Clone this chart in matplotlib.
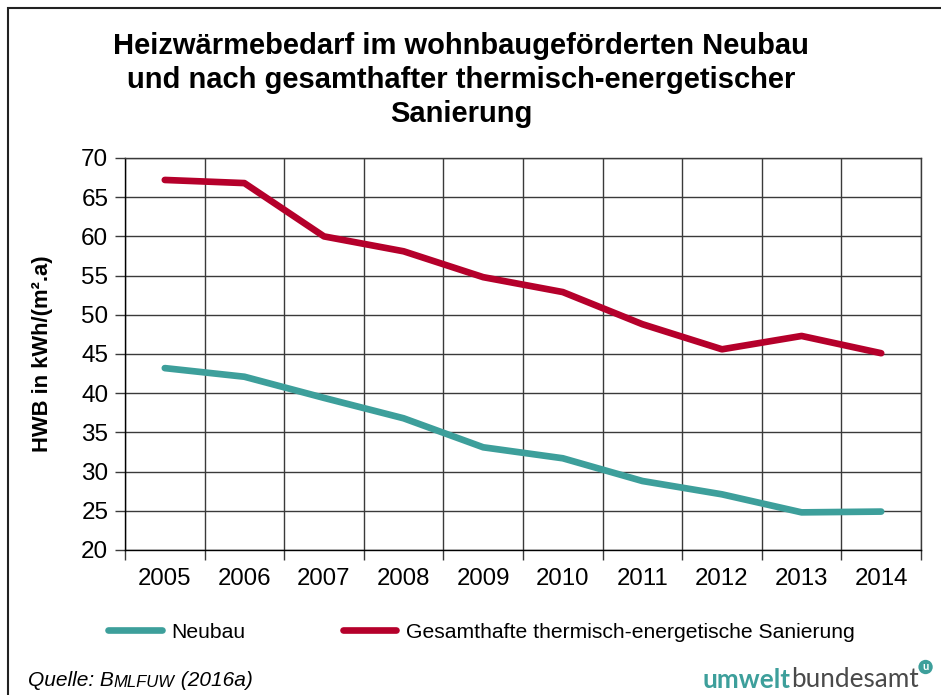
import matplotlib.pyplot as plt
from matplotlib.patches import Rectangle
import numpy as np

# data
years = ['2005', '2006', '2007', '2008', '2009', '2010', '2011', '2012', '2013', '2014']
neubau = [43.2, 42.1, 39.4, 36.8, 33.1, 31.7, 28.8, 27.1, 24.8, 24.9]
sanierung = [67.2, 66.8, 60.0, 58.1, 54.8, 52.9, 48.8, 45.6, 47.3, 45.1]
yticks = [20, 25, 30, 35, 40, 45, 50, 55, 60, 65, 70]

title = ('Heizwärmebedarf im wohnbaugeförderten Neubau\n'
         'und nach gesamthafter thermisch-energetischer\n'
         'Sanierung')
ylabel = 'HWB in kWh/(m².a)'
label_neu = 'Neubau'
label_san = 'Gesamthafte thermisch-energetische Sanierung'

TEAL = '#3d9f9b'
RED = '#b5002b'
GRID = '#3a3a3a'

plt.rcParams['font.family'] = ['Liberation Sans', 'DejaVu Sans']

fig = plt.figure(figsize=(9.41, 6.95), dpi=100)
ax = fig.add_axes([125 / 941, 1 - 550 / 695, 796 / 941, 392 / 695])

x = np.arange(len(years))
ax.plot(x, neubau, color=TEAL, lw=4.8, solid_capstyle='round', label=label_neu, zorder=3)
ax.plot(x, sanierung, color=RED, lw=4.8, solid_capstyle='round', label=label_san, zorder=3)

ax.set_xlim(-0.5, len(years) - 0.5)
ax.set_ylim(20, 70)
ax.set_yticks(yticks)
ax.set_xticks(x)
ax.set_xticklabels(years)
ax.set_xticks(np.arange(-0.5, len(years)), minor=True)
ax.tick_params(axis='x', which='major', length=0, pad=13, labelsize=17.3)
ax.tick_params(axis='x', which='minor', length=7, width=1, color=GRID)
ax.tick_params(axis='y', length=7, width=1, color=GRID, pad=5, labelsize=17.5)
ax.grid(True, axis='y', color=GRID, lw=1, zorder=1)
ax.grid(True, axis='x', which='minor', color=GRID, lw=1, zorder=1)
ax.grid(False, axis='x', which='major')
for s in ax.spines.values():
    s.set_color(GRID)
    s.set_linewidth(1)
ax.spines['left'].set_color('black')
ax.spines['bottom'].set_color('black')

ax.set_ylabel(ylabel, fontsize=15.8, fontweight='bold', labelpad=20)

fig.text(0.49, 1 - 80 / 695, title, ha='center', va='center', fontsize=21,
         fontweight='bold', linespacing=1.28)

fig.legend(loc='center left', bbox_to_anchor=(89 / 941, 1 - 632 / 695), ncol=2,
           frameon=False, fontsize=15.2, handlelength=2.55, handletextpad=0.45,
           columnspacing=4.6)

# source line with small caps for the publisher
t1 = fig.text(28 / 941, 1 - 686 / 695, 'Quelle: B', fontsize=15, style='italic',
              va='baseline')
a2 = fig.add_artist(plt.Annotation('MLFUW', xy=(1, 0), xycoords=t1, fontsize=12,
                                   style='italic', va='bottom'))
fig.add_artist(plt.Annotation(' (2016a)', xy=(1, 0), xycoords=a2, fontsize=15,
                              style='italic', va='bottom'))

# logo
l1 = fig.text(703 / 941, 1 - 688 / 695, 'umwelt', fontsize=18.8, fontweight='bold',
              color=TEAL, family=['Lato', 'DejaVu Sans'], va='baseline')
l2 = fig.add_artist(plt.Annotation('bundesamt', xy=(1, 0), xycoords=l1, fontsize=18.8,
                                   color='#4a4a4a', family=['Lato', 'DejaVu Sans'],
                                   va='bottom'))
fig.add_artist(plt.Annotation('u', xy=(1, 1), xycoords=l2, xytext=(5, 0),
                              textcoords='offset points', fontsize=8,
                              fontweight='bold', color='white', ha='center',
                              va='center', family=['Lato', 'DejaVu Sans'],
                              bbox=dict(boxstyle='circle,pad=0.15', fc=TEAL, ec='none')))

# frame around the figure (open to the right and bottom)
fig.add_artist(Rectangle((8 / 941, -0.2), 2, 1 - 8 / 695 + 0.2, transform=fig.transFigure,
                         fill=False, ec='#222222', lw=1.5))

fig.savefig('out.png', dpi=100)
